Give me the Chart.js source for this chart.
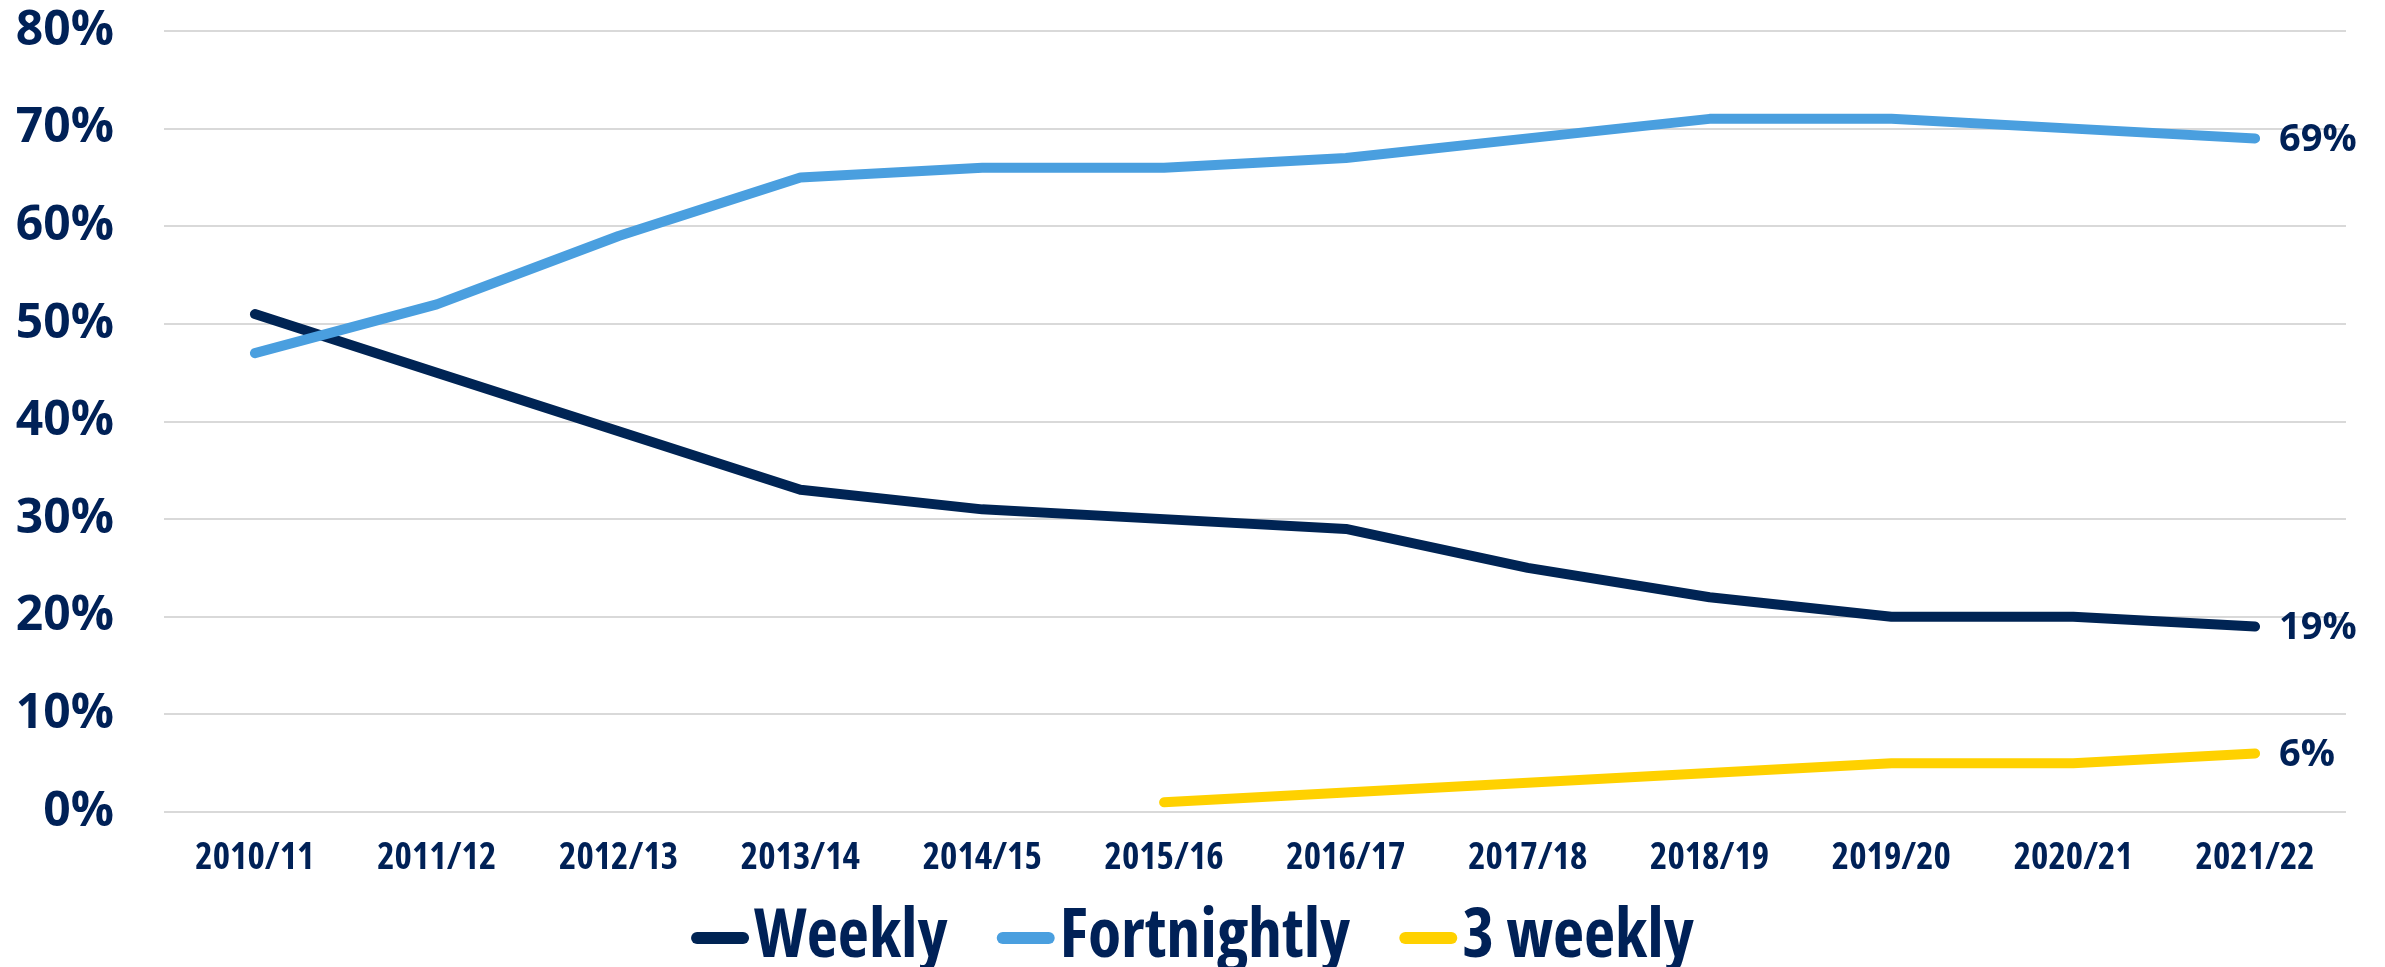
<!DOCTYPE html>
<html>
<head>
<meta charset="utf-8">
<script src="https://cdn.jsdelivr.net/npm/chart.js@4.4.1/dist/chart.umd.min.js"></script>
<style>
  html, body { margin: 0; padding: 0; background: #ffffff; }
  #wrap { width: 2385px; height: 967px; position: relative; }
</style>
</head>
<body>
<div id="wrap"><canvas id="c"></canvas></div>
<script>
const categories = ['2010/11','2011/12','2012/13','2013/14','2014/15','2015/16','2016/17','2017/18','2018/19','2019/20','2020/21','2021/22'];
const weekly      = [51, 45, 39, 33, 31, 30, 29, 25, 22, 20, 20, 19];
const fortnightly = [47, 52, 59, 65, 66, 66, 67, 69, 71, 71, 70, 69];
const threeWeekly = [null, null, null, null, null, 1, 2, 3, 4, 5, 5, 6];
const seriesNames = ['Weekly', 'Fortnightly', '3 weekly'];
const seriesColors = ['#002454', '#4A9FDF', '#FFD100'];
const yTicks = [0, 10, 20, 30, 40, 50, 60, 70, 80];

const TEXT = '#002157';

const endLabels = {
  id: 'endLabels',
  afterDatasetsDraw(chart) {
    const ctx = chart.ctx;
    ctx.save();
    ctx.font = 'bold 38px "Open Sans"';
    ctx.fillStyle = TEXT;
    ctx.textAlign = 'left';
    ctx.textBaseline = 'middle';
    chart.data.datasets.forEach((ds, i) => {
      const meta = chart.getDatasetMeta(i);
      const last = meta.data[meta.data.length - 1];
      const v = ds.data[ds.data.length - 1];
      ctx.fillText(v + '%', last.x + 24, last.y + 2);
    });
    ctx.restore();
  }
};

const customLegend = {
  id: 'customLegend',
  afterDraw(chart) {
    const ctx = chart.ctx;
    ctx.save();
    ctx.font = 'bold condensed 68px "Open Sans"';
    ctx.textBaseline = 'middle';
    ctx.textAlign = 'left';
    const swW = 58, swH = 12, gap = 5, itemGap = 49;
    const widths = seriesNames.map(n => swW + gap + ctx.measureText(n).width);
    const total = widths.reduce((a, b) => a + b, 0) + itemGap * (seriesNames.length - 1);
    let x = chart.width / 2 - total / 2;
    const y = 938;
    seriesNames.forEach((n, i) => {
      ctx.strokeStyle = seriesColors[i];
      ctx.lineWidth = swH;
      ctx.lineCap = 'round';
      ctx.beginPath();
      ctx.moveTo(x + swH / 2, y);
      ctx.lineTo(x + swW - swH / 2, y);
      ctx.stroke();
      ctx.fillStyle = TEXT;
      ctx.fillText(n, x + swW + gap, y);
      x += widths[i] + itemGap;
    });
    ctx.restore();
  }
};

const ds = (label, data, color, order) => ({
  label, data,
  borderColor: color, backgroundColor: color,
  borderWidth: 10, borderCapStyle: 'round', borderJoinStyle: 'round',
  pointRadius: 0, pointHoverRadius: 0, tension: 0, spanGaps: false, order
});

new Chart(document.getElementById('c'), {
  type: 'line',
  data: {
    labels: categories,
    datasets: [
      ds(seriesNames[0], weekly, seriesColors[0], 1),
      ds(seriesNames[1], fortnightly, seriesColors[1], 0),
      ds(seriesNames[2], threeWeekly, seriesColors[2], 2)
    ]
  },
  options: {
    responsive: true,
    maintainAspectRatio: false,
    animation: false,
    layout: { padding: { left: 10, right: 39, top: 31, bottom: 87 } },
    plugins: { legend: { display: false }, tooltip: { enabled: false } },
    scales: {
      x: {
        offset: true,
        grid: { display: false, drawTicks: false },
        border: { display: false },
        afterFit(axis) { axis.height = 68; axis.paddingLeft = 0; axis.paddingRight = 0; },
        ticks: {
          color: TEXT, padding: 24, maxRotation: 0, autoSkip: false,
          font: { family: '"Open Sans"', weight: 'bold condensed', size: 37 }
        }
      },
      y: {
        min: 0, max: 80,
        afterBuildTicks(axis) { axis.ticks = yTicks.map(v => ({ value: v })); },
        afterFit(axis) { axis.width = 154; axis.paddingTop = 0; axis.paddingBottom = 0; },
        grid: { color: '#D9D9D9', lineWidth: 2, drawTicks: false },
        border: { display: false },
        ticks: {
          color: TEXT, padding: 50,
          font: { family: '"Open Sans"', weight: 'bold', size: 48 },
          callback: v => v + '%'
        }
      }
    }
  },
  plugins: [endLabels, customLegend]
});
</script>
</body>
</html>
